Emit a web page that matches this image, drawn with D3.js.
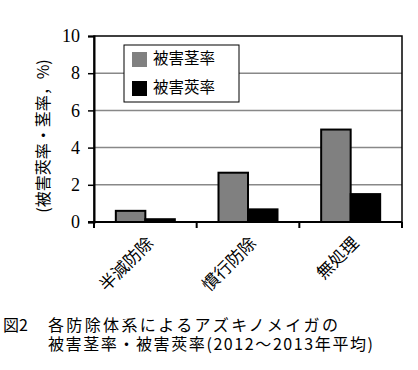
<!DOCTYPE html>
<html>
<head>
<meta charset="utf-8">
<script src="https://cdn.jsdelivr.net/npm/d3@7"></script>
<style>
  body { margin: 0; background: #fff; }
  svg { display: block; }
</style>
</head>
<body>
<svg id="chart" width="418" height="370"></svg>
<script>
  // data
  var categories = ["半減防除", "慣行防除", "無処理"];
  var seriesNames = ["被害茎率", "被害莢率"];
  var stemRate = [0.6, 2.65, 4.97];
  var podRate = [0.15, 0.68, 1.5];
  var yTicks = [0, 2, 4, 6, 8, 10];

  var svg = d3.select("#chart");
  // plot area (note: "top" is reserved on window, so use pTop etc.)
  var pLeft = 94, pRight = 402, pTop = 36, pBottom = 222;
  var jp = "'Noto Sans CJK JP', sans-serif";
  var num = "'Liberation Serif', serif";

  var x = d3.scaleBand().domain(categories).range([pLeft, pRight]).padding(0);
  var xs = d3.scaleBand().domain(seriesNames).range([0, x.bandwidth()])
    .paddingInner(0).paddingOuter(0.74);
  var y = d3.scaleLinear().domain([0, 10]).range([pBottom, pTop]);
  var colors = { "被害茎率": "#808080", "被害莢率": "#000000" };

  // gridlines
  svg.append("g").selectAll("line")
    .data(yTicks.filter(function(d){ return d > 0 && d < 10; }))
    .enter().append("line")
    .attr("x1", pLeft).attr("x2", pRight)
    .attr("y1", function(d){ return y(d); })
    .attr("y2", function(d){ return y(d); })
    .attr("stroke", "#888").attr("stroke-width", 1.5);

  // bars
  var rows = categories.map(function(c, i){
    return [{ cat: c, s: seriesNames[0], v: stemRate[i] },
            { cat: c, s: seriesNames[1], v: podRate[i] }];
  });
  svg.append("g").selectAll("g")
    .data(rows).enter().append("g")
    .attr("transform", function(d){ return "translate(" + x(d[0].cat) + ",0)"; })
    .selectAll("rect")
    .data(function(d){ return d; })
    .enter().append("rect")
    .attr("x", function(d){ return xs(d.s); })
    .attr("width", xs.bandwidth())
    .attr("y", function(d){ return y(d.v); })
    .attr("height", function(d){ return y(0) - y(d.v); })
    .attr("fill", function(d){ return colors[d.s]; })
    .attr("stroke", "#000").attr("stroke-width", 2);

  // frame
  svg.append("rect")
    .attr("x", pLeft).attr("y", pTop)
    .attr("width", pRight - pLeft).attr("height", pBottom - pTop)
    .attr("fill", "none").attr("stroke", "#000").attr("stroke-width", 1.5);

  // y axis
  var yAxis = svg.append("g")
    .attr("transform", "translate(" + pLeft + ",0)")
    .call(d3.axisLeft(y).tickValues(yTicks).tickSize(6).tickPadding(8).tickFormat(d3.format("d")));
  yAxis.select(".domain").attr("stroke-width", 2);
  yAxis.selectAll(".tick line").attr("stroke-width", 1.5);
  yAxis.selectAll("text").attr("font-family", num).attr("font-size", 18).attr("fill", "#000");

  // x axis ticks at category edges
  var edges = categories.map(function(c){ return x(c); }).concat([pRight]);
  svg.append("g").selectAll("line")
    .data(edges).enter().append("line")
    .attr("x1", function(d){ return d; }).attr("x2", function(d){ return d; })
    .attr("y1", pBottom).attr("y2", pBottom + 6)
    .attr("stroke", "#000").attr("stroke-width", 2);
  svg.append("line")
    .attr("x1", pLeft - 6).attr("x2", pRight).attr("y1", pBottom).attr("y2", pBottom)
    .attr("stroke", "#000").attr("stroke-width", 2);

  // x labels
  svg.append("g").selectAll("text")
    .data(categories).enter().append("text")
    .attr("transform", function(d){
      return "translate(" + (x(d) + x.bandwidth() / 2 + 5) + "," + 240 + ") rotate(-45)";
    })
    .attr("text-anchor", "end")
    .attr("dy", "0.35em")
    .attr("font-family", jp).attr("font-size", 17)
    .text(function(d){ return d; });

  // y title
  svg.append("text")
    .attr("transform", "translate(49,136) rotate(-90)")
    .attr("text-anchor", "middle")
    .attr("font-family", jp).attr("font-size", 16)
    .text("(被害莢率・茎率，%)");

  // legend
  var lg = svg.append("g");
  lg.append("rect").attr("x", 124).attr("y", 45).attr("width", 115).attr("height", 57)
    .attr("fill", "#fff").attr("stroke", "#000").attr("stroke-width", 1);
  seriesNames.forEach(function(s, i){
    lg.append("rect").attr("x", 132).attr("y", 52 + i * 29).attr("width", 15).attr("height", 15)
      .attr("fill", colors[s]);
    lg.append("text").attr("x", 153).attr("y", 59 + i * 29).attr("dy", "0.35em")
      .attr("font-family", jp).attr("font-size", 15.5)
      .text(s);
  });

  // caption
  svg.append("text").attr("x", 3).attr("y", 331)
    .attr("font-family", jp).attr("font-size", 16).text("図2");
  svg.append("text").attr("x", 48).attr("y", 331)
    .attr("font-family", jp).attr("font-size", 16)
    .attr("textLength", 290).attr("lengthAdjust", "spacing")
    .text("各防除体系によるアズキノメイガの");
  svg.append("text").attr("x", 48).attr("y", 350)
    .attr("font-family", jp).attr("font-size", 16)
    .attr("textLength", 325).attr("lengthAdjust", "spacing")
    .text("被害茎率・被害莢率(2012～2013年平均)");
</script>
</body>
</html>
